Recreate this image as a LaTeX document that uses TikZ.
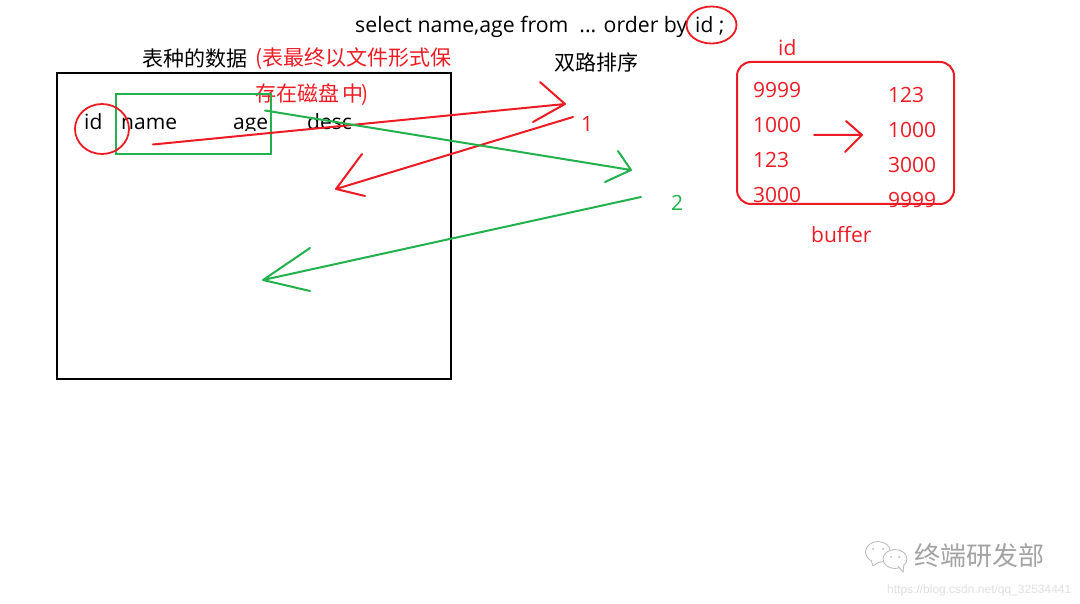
\documentclass[tikz,border=0pt]{standalone}
\usetikzlibrary{shapes.geometric}
\usepackage{fontspec}
\setmainfont{Open Sans}
\newfontfamily\cjk{Noto Sans CJK SC}
\newfontfamily\wm{Liberation Sans}
\definecolor{rd}{RGB}{237,28,36}
\definecolor{gr}{RGB}{34,177,76}
\tikzset{
  x=1pt,y=-1pt,
  txt/.style={inner sep=0pt,anchor=base west,font=\fontsize{21pt}{23pt}\selectfont,text=black},
  rtxt/.style={txt,text=rd},
  ctxt/.style={inner sep=0pt,anchor=west,font=\cjk\fontsize{21pt}{23pt}\selectfont,text=black},
  rctxt/.style={ctxt,text=rd},
  rline/.style={draw=rd,line width=2pt,line cap=round,line join=round},
  gline/.style={draw=gr,line width=2pt,line cap=round,line join=round},
  wmshape/.style={draw=black!28,line width=.8pt,fill=white}
}
\begin{document}
\begin{tikzpicture}
\useasboundingbox (0,0) rectangle (1080,604);
\fill[white] (0,0) rectangle (1080,604);
% table box
\node[draw=black,line width=2.6pt,inner sep=0pt,minimum width=394pt,minimum height=306pt] (tbl) at (254,226) {};
\node[txt,font=\fontsize{21.25pt}{23pt}\selectfont] (sql) at (355,33) {select name,age from\ \ ... order by};
\node[txt] (sqlid) at (695,33) {id ;};
\node[ctxt] (title) at (142,59) {表种的数据};
\node[rctxt] (note1) at (255,59) {(表最终以文件形式保};
\node[rctxt] (note2) at (255,95) {存在磁盘\,中\kern-2.5pt)};
\node[ctxt] (two) at (554,63) {双路排序};
\node[txt] (colid) at (84,130) {id};
\node[txt] (colname) at (121,130) {name};
\begin{scope}
\clip (220,100) rectangle (370,131);
\node[txt] (colage) at (233,130) {age};
\node[txt] (coldesc) at (307,130) {desc};
\end{scope}
\node[rtxt] (one) at (581,132) {1};
\node[txt,text=gr] (twon) at (671,211) {2};
% green select box and circles
\node[draw=gr,line width=2pt,inner sep=0pt,minimum width=154.5pt,minimum height=60.5pt] (gbox) at (193.7,124) {};
\node[draw=rd,line width=1.8pt,ellipse,inner sep=0pt,minimum width=54pt,minimum height=50pt] (cid) at (102,129) {};
\node[draw=rd,line width=1.8pt,ellipse,inner sep=0pt,minimum width=50pt,minimum height=37pt] (csql) at (711.5,25) {};
% arrows
\coordinate (r1a) at (153,144.5); \coordinate (r1b) at (565,104);
\coordinate (r1c) at (540,82); \coordinate (r1d) at (533,122);
\draw[rline] (r1a) -- (r1b) (r1c) -- (r1b) -- (r1d);
\coordinate (r2a) at (573,117); \coordinate (r2b) at (336,189);
\coordinate (r2c) at (362,154); \coordinate (r2d) at (365,196);
\draw[rline] (r2a) -- (r2b) (r2c) -- (r2b) -- (r2d);
\coordinate (g1a) at (265,110.5); \coordinate (g1b) at (631,170);
\coordinate (g1c) at (618,151); \coordinate (g1d) at (605,182);
\draw[gline] (g1a) -- (g1b) (g1c) -- (g1b) -- (g1d);
\coordinate (g2a) at (641,197); \coordinate (g2b) at (263,280);
\coordinate (g2c) at (310,248); \coordinate (g2d) at (310,291);
\draw[gline] (g2a) -- (g2b) (g2c) -- (g2b) -- (g2d);
% buffer
\node[draw=rd,line width=2pt,rounded corners=14pt,inner sep=0pt,minimum width=217pt,minimum height=142pt] (buf) at (845.5,133) {};
\node[rtxt] (bid) at (778,56) {id};
\node[rtxt] (bufl) at (811,243) {buffer};
\node[rtxt] (a1) at (753,98) {9999};
\node[rtxt] (a2) at (753,133) {1000};
\node[rtxt] (a3) at (753,168) {123};
\node[rtxt] (a4) at (753,203) {3000};
\node[rtxt] (b1) at (888,103) {123};
\node[rtxt] (b2) at (888,138) {1000};
\node[rtxt] (b3) at (888,173) {3000};
\begin{scope}
\clip (880,150) rectangle (950,208);
\node[rtxt] (b4) at (888,208) {9999};
\end{scope}
\coordinate (ba) at (814,135); \coordinate (bb) at (862,135);
\coordinate (bc) at (846,121); \coordinate (bd) at (845,152);
\draw[rline] (ba) -- (bb) (bc) -- (bb) -- (bd);
% watermark
\draw[wmshape] (878,552) ellipse (12.5pt and 10.5pt);
\draw[wmshape] (871,560) -- (873,566) -- (879,562);
\fill[black!28] (873,549) circle (1pt) (883,549) circle (1pt);
\draw[wmshape] (895,559) ellipse (12pt and 9.5pt);
\draw[wmshape] (898,566) -- (903,572) -- (904,564);
\fill[black!28] (891,557) circle (1pt) (899,557) circle (1pt);
\node[inner sep=0pt,anchor=west,font=\cjk\fontsize{26pt}{28pt}\selectfont,text=black!36] (wm1) at (914,556) {终端研发部};
\node[inner sep=0pt,anchor=west,font=\wm\fontsize{12pt}{14pt}\selectfont,text=black!12] (wm2) at (887,590) {https://blog.csdn.net/qq\_32534441};
\end{tikzpicture}
\end{document}
